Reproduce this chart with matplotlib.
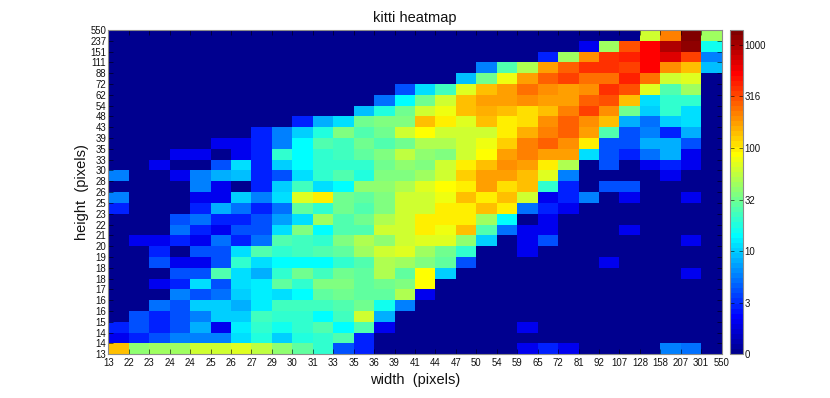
import numpy as np
import matplotlib
matplotlib.use("Agg")
import matplotlib.pyplot as plt
from matplotlib.colors import ListedColormap

x_labels = [13,22,23,24,24,25,26,27,29,30,31,33,35,36,39,41,44,47,50,54,59,65,72,81,92,107,128,158,207,301,550]
y_labels = [13,14,14,15,16,16,17,18,18,19,20,21,22,23,25,26,28,30,33,35,39,43,48,54,62,72,88,111,151,237,550]
cbar_labels = [0,3,10,32,100,316,1000]

# counts per cell, rows listed from the top of the picture (tallest) to the bottom
counts = [
 [0,0,0,0,0,0,0,0,0,0,0,0,0,0,0,0,0,0,0,0,0,0,0,0,0,0,61,220,1300,42],
 [0,0,0,0,0,0,0,0,0,0,0,0,0,0,0,0,0,0,0,0,0,0,0,2,45,300,520,900,1150,16],
 [0,0,0,0,0,0,0,0,0,0,0,0,0,0,0,0,0,0,0,0,0,3,45,200,370,440,520,700,340,6],
 [0,0,0,0,0,0,0,0,0,0,0,0,0,0,0,0,0,0,6,24,48,165,280,400,400,340,520,200,130,9],
 [0,0,0,0,0,0,0,0,0,0,0,0,0,0,0,0,0,9,33,80,175,280,340,250,250,440,240,61,68,0],
 [0,0,0,0,0,0,0,0,0,0,0,0,0,0,4,11,22,68,140,180,250,195,180,200,370,300,68,25,45,0],
 [0,0,0,0,0,0,0,0,0,0,0,0,0,5,14,31,65,130,170,175,185,170,170,280,320,140,11,19,19,0],
 [0,0,0,0,0,0,0,0,0,0,0,0,9,17,33,61,75,145,155,135,105,135,220,340,200,33,10,19,12,0],
 [0,0,0,0,0,0,0,0,0,3,8,11,30,36,35,140,95,70,140,95,110,185,280,200,145,8,5,10,12,0],
 [0,0,0,0,0,0,0,3,6,10,17,36,25,30,61,88,61,65,61,95,150,220,260,175,25,4,6,3,8,0],
 [0,0,0,0,0,2,2,3,6,14,25,22,33,26,33,52,48,61,82,125,220,280,195,95,4,4,8,8,4,0],
 [0,0,0,2,2,0,2,3,19,14,19,22,27,36,58,40,36,65,85,165,220,180,170,12,4,3,5,8,2,0],
 [0,0,2,0,0,4,11,3,10,14,20,19,20,33,40,36,65,95,145,185,170,95,52,0,4,0,2,3,2,0],
 [6,0,0,2,6,8,9,3,4,11,19,26,17,36,36,45,65,125,165,165,130,68,6,0,0,0,0,2,0,0],
 [0,0,0,0,6,2,0,3,10,22,11,15,40,40,50,68,85,95,175,105,130,19,3,0,4,4,0,0,0,0],
 [6,0,0,0,2,2,10,6,12,68,95,30,28,36,61,61,75,140,100,140,61,2,3,6,0,2,0,0,2,0],
 [3,0,0,0,3,8,5,3,5,28,19,30,26,36,60,60,95,95,140,95,5,3,2,0,0,0,0,0,0,0],
 [0,0,0,4,5,3,3,4,7,11,45,24,30,52,60,95,95,95,45,15,0,2,0,0,0,0,0,0,0,0],
 [0,0,0,5,3,2,4,4,12,36,15,25,26,65,60,95,75,140,25,5,2,2,0,0,0,2,0,0,0,0],
 [0,2,2,3,2,5,3,5,25,22,20,36,48,40,60,70,70,40,10,0,2,4,0,0,0,0,0,0,2,0],
 [0,0,3,0,4,4,12,25,19,22,24,27,45,65,70,45,30,19,0,0,2,0,0,0,0,0,0,0,0,0],
 [0,0,4,2,2,4,19,12,15,15,15,19,25,52,45,36,27,4,0,0,0,0,0,0,2,0,0,0,0,0],
 [0,0,0,4,4,25,12,8,19,33,22,30,28,48,27,88,10,0,0,0,0,0,0,0,0,0,0,0,2,0],
 [0,0,2,3,12,4,12,13,27,20,36,36,28,30,36,88,0,0,0,0,0,0,0,0,0,0,0,0,0,0],
 [0,0,0,6,4,5,10,13,11,15,27,30,28,27,52,2,0,0,0,0,0,0,0,0,0,0,0,0,0,0],
 [0,0,5,4,10,10,8,13,22,22,22,24,30,16,6,0,0,0,0,0,0,0,0,0,0,0,0,0,0,0],
 [0,4,3,4,6,10,10,22,19,19,15,22,60,8,0,0,0,0,0,0,0,0,0,0,0,0,0,0,0,0],
 [3,4,3,4,8,2,13,19,16,19,25,15,25,2,0,0,0,0,0,0,2,0,0,0,0,0,0,0,0,0],
 [2,3,4,6,6,6,12,17,10,17,19,25,3,0,0,0,0,0,0,0,0,0,0,0,0,0,0,0,0,0],
 [140,38,45,45,60,62,68,55,38,27,21,4,3,0,0,0,0,0,0,0,2,3,2,0,0,0,0,6,5,0],
]

plt.rcParams['font.family'] = ['Liberation Sans', 'DejaVu Sans']

# 64-step jet as the original tool defines it (navy starts lighter than matplotlib's jet)
idx = np.arange(1, 65)
red = np.interp(idx, [24, 40, 56, 64], [0, 1, 1, 0.5])
green = np.interp(idx, [8, 24, 40, 56], [0, 1, 1, 0])
blue = np.interp(idx, [1, 8, 24, 40], [0.5625, 1, 1, 0])
cmap = ListedColormap(np.column_stack([red, green, blue]))

W, H = 830, 398
fig = plt.figure(figsize=(W / 100, H / 100), dpi=100)
ax = fig.add_axes([108.4 / W, 1 - 354.2 / H, (721.6 - 108.4) / W, (354.2 - 30) / H])
cax = fig.add_axes([730.3 / W, 1 - 354.2 / H, (742.8 - 730.3) / W, (354.2 - 30) / H])

data = np.log10(np.maximum(np.array(counts, dtype=float), 1))[::-1]
mesh = ax.pcolormesh(np.arange(data.shape[1] + 1), np.arange(data.shape[0] + 1), data,
                     cmap=cmap, vmin=0, vmax=3.145, linewidth=0, rasterized=True)

ax.set_xticks(np.arange(len(x_labels)))
ax.set_xticklabels(x_labels)
ax.set_yticks(np.arange(len(y_labels)))
ax.set_yticklabels(y_labels)
ax.tick_params(axis='both', direction='in', length=3.5, width=0.4, labelsize=6.9,
               top=True, right=True, color='black', labelcolor='#111111')
ax.tick_params(axis='x', pad=2.5)
ax.tick_params(axis='y', pad=1.5)
for s in ax.spines.values():
    s.set_color('#8c8c8c')
    s.set_linewidth(0.8)

ax.set_title('kitti heatmap', fontsize=10.5, pad=5.5, color='#111111')
ax.set_xlabel('width  (pixels)', fontsize=10.5, labelpad=3.5, color='#111111')
ax.set_ylabel('height  (pixels)', fontsize=10.5, labelpad=0.5, color='#111111')

cb = fig.colorbar(mesh, cax=cax)
cb.set_ticks([0, 0.5, 1, 1.5, 2, 2.5, 3])
cb.set_ticklabels(cbar_labels)
cb.ax.tick_params(direction='in', length=3, width=0.4, labelsize=6.9, pad=1,
                  left=True, right=True, labelcolor='#111111')
cb.outline.set_edgecolor('#8c8c8c')
cb.outline.set_linewidth(0.8)

fig.savefig('out.png', dpi=100)
